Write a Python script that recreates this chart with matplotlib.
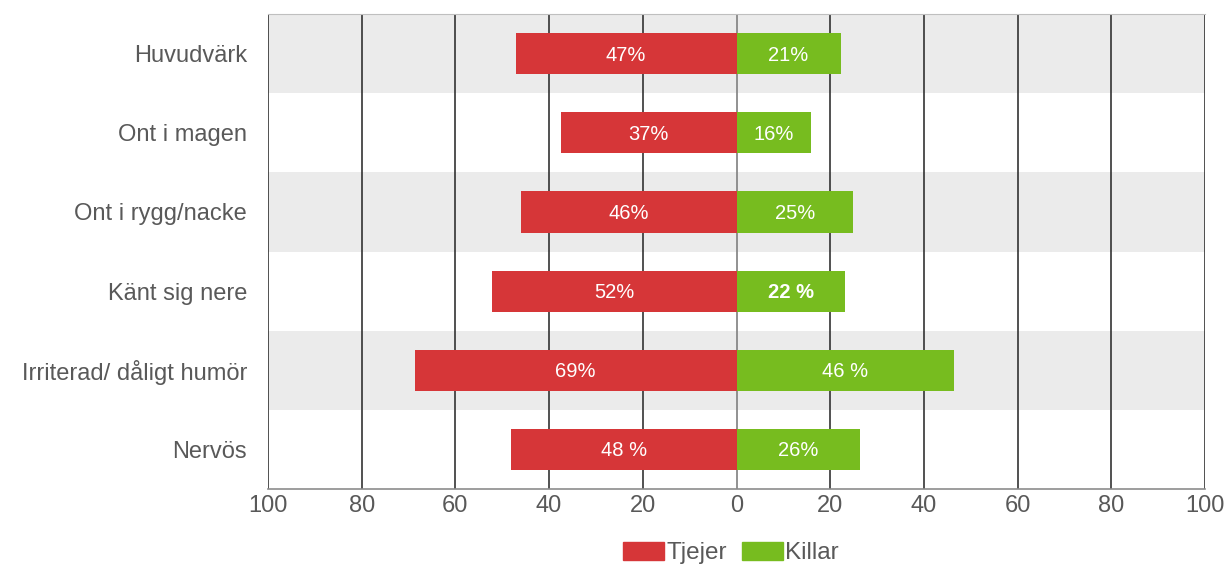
import matplotlib.pyplot as plt
from matplotlib.patches import Patch

# data
categories = ['Huvudvärk', 'Ont i magen', 'Ont i rygg/nacke', 'Känt sig nere',
              'Irriterad/ dåligt humör', 'Nervös']
tjejer = [47.1, 37.5, 46.1, 52.2, 68.7, 48.2]
killar = [22.2, 15.8, 24.9, 23.2, 46.5, 26.4]
tjejer_labels = ['47%', '37%', '46%', '52%', '69%', '48 %']
killar_labels = ['21%', '16%', '25%', '22 %', '46 %', '26%']
ticks = [-100, -80, -60, -40, -20, 0, 20, 40, 60, 80, 100]

red = '#d63638'
green = '#77bc1f'
textcol = '#595959'

plt.rcParams['font.family'] = ['Liberation Sans', 'DejaVu Sans']

fig = plt.figure(figsize=(12.25, 5.65), dpi=100)
ax = fig.add_axes([268 / 1225, 1 - 489 / 565, 937 / 1225, 475 / 565])

n = len(categories)
ypos = list(range(n))[::-1]

# alternating row bands
for i, y in enumerate(ypos):
    if i % 2 == 0:
        ax.axhspan(y - 0.5, y + 0.5, color='#ebebeb', zorder=0, lw=0)

# vertical grid lines
for t in ticks:
    col = '#7f7f7f' if t == 0 else '#333333'
    ax.axvline(t, color=col, lw=1.2, zorder=1)

ax.barh(ypos, [-v for v in tjejer], height=0.52, color=red, zorder=2)
ax.barh(ypos, killar, height=0.52, color=green, zorder=2)

for y, v, lab in zip(ypos, tjejer, tjejer_labels):
    ax.text(-v / 2, y - 0.02, lab, ha='center', va='center', color='white', fontsize=14.5, zorder=3)
for y, v, lab in zip(ypos, killar, killar_labels):
    w = 'bold' if lab == '22 %' else 'normal'
    ax.text(v / 2, y - 0.02, lab, ha='center', va='center', color='white', fontsize=14.5,
            fontweight=w, zorder=3)

ax.set_xlim(-100, 100)
ax.set_ylim(-0.5, n - 0.5)
ax.set_xticks(ticks)
ax.set_xticklabels([str(abs(t)) for t in ticks], fontsize=17, color=textcol)
ax.set_yticks(ypos)
ax.set_yticklabels(categories, fontsize=17, color=textcol)
ax.tick_params(axis='y', length=0, pad=15)
ax.tick_params(axis='x', length=0, pad=4)

for s in ['left', 'right']:
    ax.spines[s].set_visible(False)
ax.spines['top'].set_color('#bfbfbf')
ax.spines['bottom'].set_color('#8c8c8c')
ax.spines['bottom'].set_linewidth(1.2)

handles = [Patch(color=red, label='Tjejer'), Patch(color=green, label='Killar')]
leg = fig.legend(handles=handles, loc='center', bbox_to_anchor=(731 / 1225, 1 - 553 / 565),
                 ncol=2, frameon=False, fontsize=17.5, handlelength=1.7, handleheight=0.75,
                 handletextpad=0.1, columnspacing=0.6)
for t in leg.get_texts():
    t.set_color(textcol)

fig.savefig('out.png', dpi=100)
